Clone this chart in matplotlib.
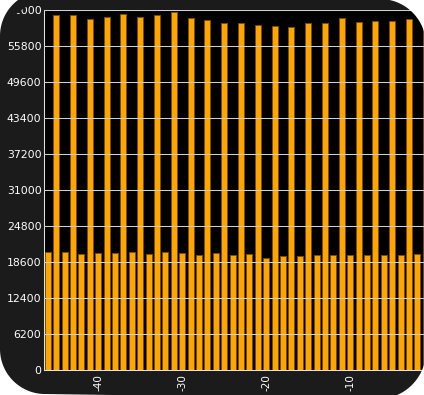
import numpy as np
import matplotlib
matplotlib.use("Agg")
import matplotlib.pyplot as plt
from matplotlib.path import Path
from matplotlib.patches import PathPatch, Polygon

# bars alternate: even x -> low, odd x -> high
low_x = list(range(-46, -1, 2))
high_x = list(range(-45, 0, 2))
low_values = [20300, 20300, 20000, 20150, 20150, 20300, 20000, 20300, 20150, 19800,
              20150, 19800, 20000, 19300, 19650, 19650, 19800, 19800, 19800, 19800,
              19800, 19800, 20000]
high_values = [61150, 61150, 60450, 60800, 61300, 60800, 61150, 61750, 60600, 60300,
               59850, 59850, 59400, 59250, 59050, 59750, 59750, 60600, 59950, 60100,
               60100, 60450, 60500]
y_ticks = [0, 6200, 12400, 18600, 24800, 31000, 37200, 43400, 49600, 55800, 62000]
x_ticks = [-40, -30, -20, -10]

W, H = 424, 395
frame_color = '#1b1b1b'
fig = plt.figure(figsize=(W / 100, H / 100), dpi=100, facecolor=frame_color)

# plot area in pixels: left 44, top 10.3, bottom 370.3, 8.4 px per x unit
x_left = -46.46
x_right = 0.0
px_per_unit = 8.4
ax = fig.add_axes([44 / W, (H - 370.3) / H, (x_right - x_left) * px_per_unit / W, 360 / H])
ax.set_facecolor('black')

bar_kw = dict(width=0.72, color='#ffa500', edgecolor='#7a5000', linewidth=0.7)
ax.bar(low_x, low_values, **bar_kw)
ax.bar(high_x, high_values, **bar_kw)

ax.set_xlim(x_left, x_right)
ax.set_ylim(0, 62000)
ax.set_yticks(y_ticks)
ax.set_yticklabels([str(v) for v in y_ticks])
ax.set_xticks(x_ticks)
ax.set_xticklabels([str(v) for v in x_ticks], rotation=90)
ax.tick_params(axis='y', length=0, pad=1.8, colors='white', labelsize=7.8)
ax.tick_params(axis='x', length=0, pad=3, colors='white', labelsize=7.5)
ax.set_axisbelow(False)
ax.grid(axis='y', color='#d0d0d0', linewidth=0.75)
for side in ['left', 'bottom']:
    ax.spines[side].set_color('#e0e0e0')
    ax.spines[side].set_linewidth(0.75)
ax.spines['top'].set_visible(False)
ax.spines['right'].set_visible(False)

# overlay in pixel coordinates for the rounded frame
mask_ax = fig.add_axes([0, 0, 1, 1], zorder=10)
mask_ax.set_xlim(0, W)
mask_ax.set_ylim(H, 0)
mask_ax.axis('off')
mask_ax.patch.set_alpha(0)


def arc(cx, cy, r, t0, t1, n=40):
    t = np.linspace(t0, t1, n)
    return list(zip(cx + r * np.cos(t), cy + r * np.sin(t)))


# inner content corner hides the start of the top label
corner_fill = [(0, 0)] + arc(52, 52, 52, 1.5 * np.pi, np.pi)
mask_ax.add_patch(Polygon(corner_fill, closed=True, facecolor=frame_color,
                          edgecolor='none', zorder=1))

# white outside the rounded frame
inner = (arc(45, 36, 45, np.pi, 1.5 * np.pi) + arc(380, 45, 46, 1.5 * np.pi, 2 * np.pi)
         + arc(378, 351, 48, 0, 0.5 * np.pi) + arc(45, 349, 45, 0.5 * np.pi, np.pi))
outer = [(-20, -20), (-20, H + 20), (W + 20, H + 20), (W + 20, -20)]
verts = outer + [outer[0]] + inner + [inner[0]]
codes = ([Path.MOVETO] + [Path.LINETO] * 3 + [Path.CLOSEPOLY]
         + [Path.MOVETO] + [Path.LINETO] * (len(inner) - 1) + [Path.CLOSEPOLY])
mask_ax.add_patch(PathPatch(Path(verts, codes), facecolor='white', edgecolor='none', zorder=2))

fig.savefig('out.png', dpi=100, facecolor=fig.get_facecolor())
